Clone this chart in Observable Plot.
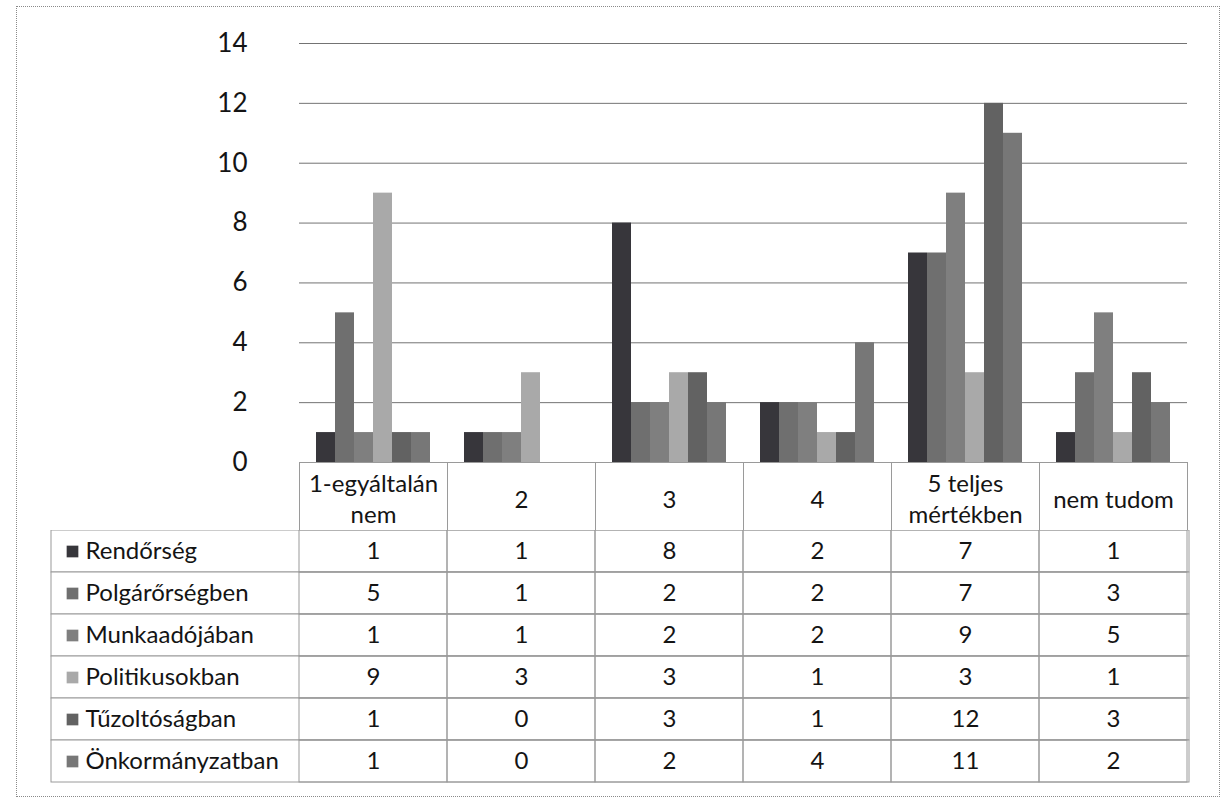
<!DOCTYPE html>
<html>
<head>
<meta charset="utf-8">
<script src="https://cdn.jsdelivr.net/npm/d3@7"></script>
<script src="https://cdn.jsdelivr.net/npm/@observablehq/plot@0.6"></script>
<style>
  html, body { margin: 0; padding: 0; background: #fff; }
  body { width: 1226px; height: 806px; position: relative; overflow: hidden; font-family: Lato, sans-serif; }
  #outer { position: absolute; left: 16px; top: 6px; width: 1202px; height: 789px; border: 1px dotted #8a8a8a; }
  #chart { position: absolute; left: 0; top: 0; }
  #table { position: absolute; left: 0; top: 530px; }
  svg { background: transparent !important; }
</style>
</head>
<body>
<div id="outer"></div>
<div id="chart"></div>
<div id="table"></div>
<script>
// ---- data ----
const categories = ["1-egyáltalán nem", "2", "3", "4", "5 teljes mértékben", "nem tudom"];
const series = ["Rendőrség", "Polgárőrségben", "Munkaadójában", "Politikusokban", "Tűzoltóságban", "Önkormányzatban"];
const rendorseg       = [1, 1, 8, 2, 7, 1];
const polgarorsegben  = [5, 1, 2, 2, 7, 3];
const munkaadojaban   = [1, 1, 2, 2, 9, 5];
const politikusokban  = [9, 3, 3, 1, 3, 1];
const tuzoltosagban   = [1, 0, 3, 1, 12, 3];
const onkormanyzatban = [1, 0, 2, 4, 11, 2];
const yTicks = [0, 2, 4, 6, 8, 10, 12, 14];
const colors = ["#37363b", "#6f6f6f", "#7f7f7f", "#a9a9a9", "#626262", "#777777"];

const seriesValues = [rendorseg, polgarorsegben, munkaadojaban, politikusokban, tuzoltosagban, onkormanyzatban];
const rows = series.flatMap((s, i) => categories.map((c, j) => ({series: s, category: c, value: seriesValues[i][j]})));

const FONT = "Lato, sans-serif";
const colorScale = {domain: series, range: colors};

// ---- chart with header row ----
const chart = Plot.plot({
  width: 1226,
  height: 532,
  marginLeft: 297,
  marginRight: 37,
  marginTop: 43,
  marginBottom: 70,
  style: {fontFamily: FONT, fontSize: "24px", color: "#141414", background: "transparent"},
  fx: {domain: categories, padding: 0, axis: null},
  x: {domain: series, paddingInner: 0, paddingOuter: 0.72, axis: null},
  y: {domain: [0, 14], axis: null},
  color: colorScale,
  marks: [
    Plot.gridY(yTicks, {stroke: "#5a5a5a", strokeOpacity: 0.85, strokeWidth: 1}),
    Plot.axisY(yTicks, {tickSize: 0, tickPadding: 52, fontSize: 26, label: null, line: true, stroke: "#777", fill: "#141414"}),
    Plot.barY(rows, {fx: "category", x: "series", y: "value", fill: "series"}),
    Plot.frame({insetTop: 419, insetBottom: -68, stroke: "#9a9a9a"}),
    Plot.text(categories, {fx: d => d, text: d => d, frameAnchor: "bottom", dy: 35, lineWidth: 7, lineHeight: 1.32, lineAnchor: "middle", fontSize: 24, fill: "#141414"})
  ]
});
document.getElementById("chart").appendChild(chart);

// ---- data table body ----
const table = Plot.plot({
  width: 1226,
  height: 256,
  marginLeft: 297,
  marginRight: 37,
  marginTop: 0,
  marginBottom: 4,
  style: {fontFamily: FONT, fontSize: "24px", color: "#141414", background: "transparent"},
  x: {domain: categories, padding: 0, axis: null},
  y: {domain: series, padding: 0, axis: null},
  color: colorScale,
  marks: [
    Plot.cell(series, {y: d => d, insetLeft: -246, fill: "white", stroke: "#9a9a9a"}),
    Plot.cell(rows, {x: "category", y: "series", fill: "none", stroke: "#9a9a9a"}),
    Plot.dot(series, {y: d => d, frameAnchor: "left", dx: -225, symbol: "square", r: 6.6, fill: d => d, stroke: null}),
    Plot.text(series, {y: d => d, text: d => d, frameAnchor: "left", dx: -212, textAnchor: "start", fontSize: 24, fill: "#141414"}),
    Plot.text(rows, {x: "category", y: "series", text: d => String(d.value), fontSize: 24, fill: "#141414"})
  ]
});
document.getElementById("table").appendChild(table);
</script>
</body>
</html>
